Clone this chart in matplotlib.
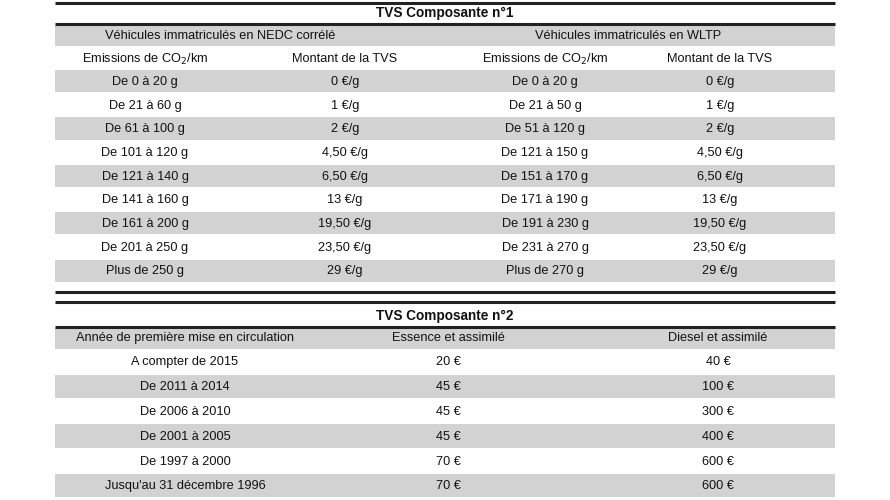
import matplotlib
matplotlib.use("Agg")
import matplotlib.pyplot as plt

title1 = "TVS Composante n°1"
groups1 = ["Véhicules immatriculés en NEDC corrélé", "Véhicules immatriculés en WLTP"]
headers1 = ["Emissions de CO$_2$/km", "Montant de la TVS", "Emissions de CO$_2$/km", "Montant de la TVS"]
nedc_ranges = ["De 0 à 20 g", "De 21 à 60 g", "De 61 à 100 g", "De 101 à 120 g", "De 121 à 140 g",
               "De 141 à 160 g", "De 161 à 200 g", "De 201 à 250 g", "Plus de 250 g"]
wltp_ranges = ["De 0 à 20 g", "De 21 à 50 g", "De 51 à 120 g", "De 121 à 150 g", "De 151 à 170 g",
               "De 171 à 190 g", "De 191 à 230 g", "De 231 à 270 g", "Plus de 270 g"]
rates = ["0 €/g", "1 €/g", "2 €/g", "4,50 €/g", "6,50 €/g", "13 €/g", "19,50 €/g", "23,50 €/g", "29 €/g"]

title2 = "TVS Composante n°2"
headers2 = ["Année de première mise en circulation", "Essence et assimilé", "Diesel et assimilé"]
years = ["A compter de 2015", "De 2011 à 2014", "De 2006 à 2010", "De 2001 à 2005", "De 1997 à 2000",
         "Jusqu'au 31 décembre 1996"]
essence = ["20 €", "45 €", "45 €", "45 €", "70 €", "70 €"]
diesel = ["40 €", "100 €", "300 €", "400 €", "600 €", "600 €"]

plt.rcParams["font.family"] = "Liberation Sans"
fig = plt.figure(figsize=(8.9, 5), dpi=100)
ax = fig.add_axes([0, 0, 1, 1])
ax.set_xlim(0, 890); ax.set_ylim(500, 0); ax.axis("off")
X0, X1 = 55, 835
GRAY = "#d2d2d2"
FS = 9.2

def band(y0, y1):
    ax.add_patch(plt.Rectangle((X0, y0), X1 - X0, y1 - y0, color=GRAY, lw=0))

def hline(y, lw):
    ax.plot([X0, X1], [y, y], color="#222222", lw=lw, solid_capstyle="butt")

def txt(x, y, s, bold=False, size=FS):
    ax.text(x, y, s, ha="center", va="center", fontsize=size,
            fontweight="bold" if bold else "normal", color="#111111")

# Table 1
hline(3, 2.2)
txt(445, 13, title1, bold=True, size=9.8)
hline(24, 2.2)
band(25, 46)
txt(220, 36, groups1[0]); txt(628, 36, groups1[1])
hx = [145, 345, 545, 720]
for x, h in zip(hx, headers1):
    txt(x, 59, h)
row_h = 23.7
y = 70
for i in range(len(rates)):
    if i % 2 == 0:
        band(y, y + row_h - 1.5)
    cy = y + row_h / 2
    txt(hx[0], cy, nedc_ranges[i]); txt(hx[1], cy, rates[i])
    txt(hx[2], cy, wltp_ranges[i]); txt(hx[3], cy, rates[i])
    y += row_h
hline(292, 2.2)

# Table 2
hline(302, 2.2)
txt(445, 316, title2, bold=True, size=9.8)
hline(327, 2.2)
band(328, 349)
cx = [185, 448, 718]
for x, h in zip(cx, headers2):
    txt(x, 338, h)
y = 350
row_h2 = 24.8
for i in range(len(years)):
    if i % 2 == 1:
        band(y, y + row_h2 - 1.5)
    cy = y + row_h2 / 2
    txt(cx[0], cy, years[i]); txt(cx[1], cy, essence[i]); txt(cx[2], cy, diesel[i])
    y += row_h2

fig.savefig("out.png", dpi=100, facecolor="white")
